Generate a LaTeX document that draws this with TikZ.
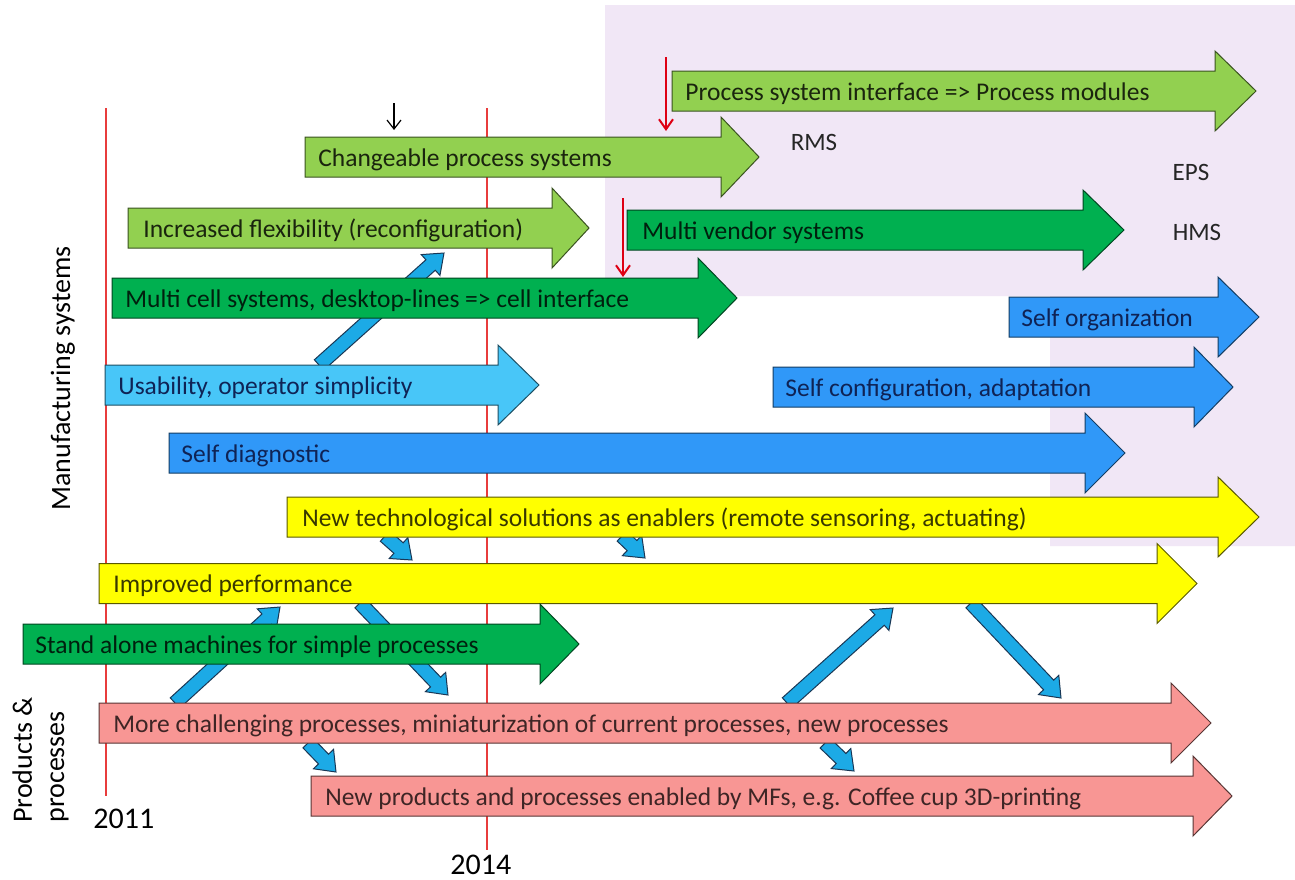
\documentclass[tikz,border=0pt]{standalone}
\usepackage{fontspec}
\setmainfont{Carlito}
\usetikzlibrary{calc,arrows.meta}
\definecolor{lgreen}{RGB}{146,208,80}
\definecolor{dgreen}{RGB}{0,176,80}
\definecolor{lblue}{RGB}{72,198,248}
\definecolor{mblue}{RGB}{48,152,248}
\definecolor{yel}{RGB}{255,255,0}
\definecolor{pinkc}{RGB}{248,150,148}
\definecolor{cblue}{RGB}{28,170,230}
\definecolor{cdark}{RGB}{25,55,85}
\definecolor{lav}{RGB}{241,231,246}
\definecolor{yearred}{RGB}{232,60,60}
\definecolor{redarr}{RGB}{222,0,20}
\definecolor{navy}{RGB}{15,35,85}
% #1 name, #2 style prefix, #3 left x, #4 centre y, #5 head x, #6 tip x, #7 text x, #8 text
\newcommand\blockarr[8]{%
  \draw[#2] (#3,#4-20) -- (#5,#4-20) -- (#5,#4-40) -- (#6,#4) -- (#5,#4+40) -- (#5,#4+20) -- (#3,#4+20) -- cycle;
  \node[lbl,#2t,anchor=base west] (#1) at (#7,#4+9) {#8};}
% connector from named coordinate #1 to named coordinate #2
\newcommand\myconn[2]{%
  \coordinate (hb) at ($(#2)!9pt!(#1)$);
  \draw[conn] ($(#1)!3.5pt!90:(#2)$) -- ($(hb)!3.5pt!-90:(#1)$) -- ($(hb)!7pt!-90:(#1)$) -- (#2)
     -- ($(hb)!7pt!90:(#1)$) -- ($(hb)!3.5pt!90:(#1)$) -- ($(#1)!3.5pt!-90:(#2)$) -- cycle;}
\begin{document}
\begin{tikzpicture}[x=0.5pt,y=-0.5pt,
  lbl/.style={inner sep=0pt,font=\fontsize{12.75}{15}\selectfont},
  lg/.style={fill=lgreen,draw=lgreen!40!black,line width=0.5pt},
  lgt/.style={text=lgreen!18!black},
  dg/.style={fill=dgreen,draw=dgreen!40!black,line width=0.5pt},
  dgt/.style={text=dgreen!18!black},
  lb/.style={fill=lblue,draw=lblue!40!black,line width=0.5pt},
  lbt/.style={text=navy},
  mb/.style={fill=mblue,draw=mblue!40!black,line width=0.5pt},
  mbt/.style={text=navy},
  ye/.style={fill=yel,draw=yel!35!black,line width=0.5pt},
  yet/.style={text=yel!22!black},
  pk/.style={fill=pinkc,draw=pinkc!35!black,line width=0.5pt},
  pkt/.style={text=pinkc!25!black},
  conn/.style={fill=cblue,draw=cdark,line width=0.5pt},
  yearline/.style={draw=yearred,line width=0.7pt},
  yearlbl/.style={inner sep=0pt,font=\fontsize{15}{18}\selectfont},
  side/.style={inner sep=0pt,font=\fontsize{14}{17}\selectfont},
  tag/.style={inner sep=0pt,text=black!85,font=\fontsize{12.5}{15}\selectfont},
  redarrow/.style={draw=redarr,line width=1pt,-{Straight Barb[length=5pt,width=7pt]}},
  blackarrow/.style={draw=black,line width=0.6pt,-{Straight Barb[length=4.5pt,width=7pt]}}]
\useasboundingbox (0,0) rectangle (1295,879);
\fill[white] (0,0) rectangle (1295,879);
\fill[lav] (605,5) -- (1295,5) -- (1295,546) -- (1050,546) -- (1050,296) -- (605,296) -- cycle;
% year lines
\coordinate (y11top) at (106,108); \coordinate (y11bot) at (106,796);
\coordinate (y14top) at (487,108); \coordinate (y14bot) at (487,850);
\draw[yearline] (y11top) -- (y11bot);
\draw[yearline] (y14top) -- (y14bot);
\node[yearlbl,anchor=base west] (y2011) at (93,828) {2011};
\node[yearlbl,anchor=base west] (y2014) at (450,874) {2014};
% connectors
\coordinate (c1a) at (319,365); \coordinate (c1b) at (444,253);
\coordinate (c2a) at (175,703); \coordinate (c2b) at (280,607);
\coordinate (c3a) at (385,536); \coordinate (c3b) at (412,560);
\coordinate (c4a) at (622,536); \coordinate (c4b) at (645,558);
\coordinate (c5a) at (360,603); \coordinate (c5b) at (448,695);
\coordinate (c6a) at (971,603); \coordinate (c6b) at (1061,698);
\coordinate (c7a) at (787,703); \coordinate (c7b) at (893,608);
\coordinate (c8a) at (308,743); \coordinate (c8b) at (336,772);
\coordinate (c9a) at (825,743); \coordinate (c9b) at (854,771);
\myconn{c1a}{c1b}
\myconn{c2a}{c2b}
\myconn{c3a}{c3b}
\myconn{c4a}{c4b}
\myconn{c5a}{c5b}
\myconn{c6a}{c6b}
\myconn{c7a}{c7b}
\myconn{c8a}{c8b}
\myconn{c9a}{c9b}
% block arrows
\blockarr{psi}{lg}{672}{91}{1215}{1256}{685}{Process system interface => Process modules}
\blockarr{cps}{lg}{305}{157}{721}{759}{318}{Changeable process systems}
\blockarr{incflex}{lg}{128}{228}{552}{589}{143}{Increased flexibility (reconfiguration)}
\blockarr{mvs}{dg}{627}{230}{1083}{1124}{642}{Multi vendor systems}
\blockarr{mcs}{dg}{112}{298}{698}{737}{125}{Multi cell systems, desktop-lines => cell interface}
\blockarr{selforg}{mb}{1009}{317}{1218}{1259}{1021}{Self organization}
\blockarr{usab}{lb}{105}{385}{498}{539}{118}{Usability, operator simplicity}
\blockarr{selfconf}{mb}{773}{387}{1194}{1233}{785}{Self configuration, adaptation}
\blockarr{selfdiag}{mb}{169}{453}{1085}{1125}{181}{Self diagnostic}
\blockarr{newtech}{ye}{287}{517}{1218}{1259}{302}{New technological solutions as enablers (remote sensoring, actuating)}
\blockarr{impperf}{ye}{99}{583.5}{1157}{1197}{113}{Improved performance}
\blockarr{standalone}{dg}{23}{644}{540}{579}{35}{Stand alone machines for simple processes}
\blockarr{morechal}{pk}{99}{723}{1171}{1211}{113}{More challenging processes, miniaturization of current processes, new processes}
\blockarr{newprod}{pk}{311}{796}{1193}{1232}{325}{New products and processes enabled by MFs, e.g. Coffee cup 3D-printing}
% tags
\node[tag] (rms) at (814,142) {RMS};
\node[tag] (eps) at (1191,172) {EPS};
\node[tag] (hms) at (1197,232) {HMS};
% side labels
\node[side,rotate=90,anchor=base west] (manu) at (70,511) {Manufacturing systems};
\node[side,rotate=90,anchor=base west] (prod1) at (32,823) {Products \&};
\node[side,rotate=90,anchor=base west] (prod2) at (64,823) {processes};
% markers
\coordinate (r1a) at (666,57); \coordinate (r1b) at (666,131);
\coordinate (r2a) at (623,198); \coordinate (r2b) at (623,277);
\coordinate (k1a) at (394,103); \coordinate (k1b) at (394,130);
\draw[redarrow] (r1a) -- (r1b);
\draw[redarrow] (r2a) -- (r2b);
\draw[blackarrow] (k1a) -- (k1b);
\end{tikzpicture}
\end{document}
